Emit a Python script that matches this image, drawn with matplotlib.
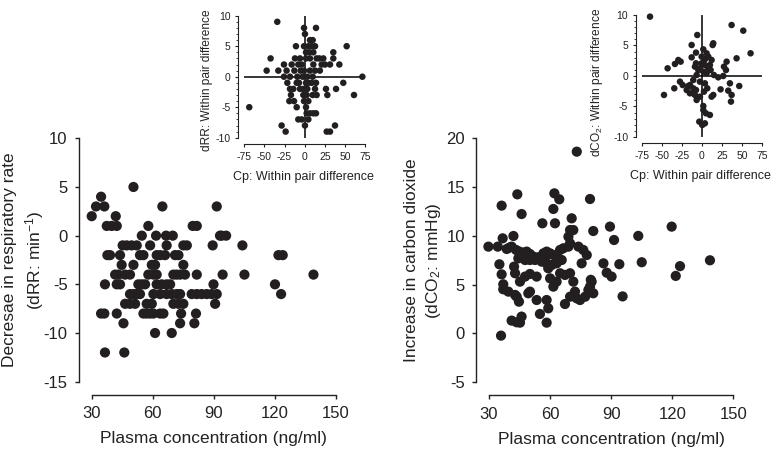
import numpy as np
import matplotlib
matplotlib.use('Agg')
import matplotlib.pyplot as plt

plt.rcParams['font.family'] = ['Liberation Sans', 'DejaVu Sans']
plt.rcParams['mathtext.fontset'] = 'custom'
plt.rcParams['mathtext.rm'] = 'Liberation Sans'
plt.rcParams['mathtext.it'] = 'Liberation Sans:italic'
plt.rcParams['axes.unicode_minus'] = False

# main left: plasma concentration vs decrease in respiratory rate
cp_rr = [34.6, 32.1, 36.2, 30.0, 41.8, 50.5, 64.7, 91.4,
         37.4, 39.8, 42.3, 57.8, 79.6, 81.6,
         54.6, 61.6, 66.5, 69.8, 93.0, 93.8, 96.0,
         45.2, 47.2, 49.6, 52.1, 58.7, 66.8, 75.0, 76.7, 89.4, 104.0,
         37.7, 39.0, 43.9, 53.7, 55.4, 61.9, 63.6, 66.0, 70.9, 72.6, 121.7, 123.8,
         44.7, 50.5, 59.5, 61.1, 75.0,
         41.5, 43.1, 46.4, 48.8, 57.8, 60.3, 61.9, 70.1, 71.7, 73.4, 75.8, 81.6, 94.3, 105.0, 138.9,
         36.5, 42.3, 43.9, 52.9, 54.6, 56.2, 61.9, 64.4, 66.8, 68.5, 89.8, 120.0,
         48.8, 50.5, 52.1, 53.7, 60.3, 63.6, 66.8, 69.3, 71.7, 73.4,
         79.1, 81.6, 84.0, 86.5, 88.9, 91.4, 123.0,
         46.4, 48.8, 51.3, 57.0, 59.5, 70.1, 72.6, 75.0, 90.6,
         34.6, 36.2, 42.3, 55.4, 57.0, 58.7, 60.3, 63.6, 65.2, 73.9, 81.2,
         45.6, 73.4, 80.4,
         61.1, 69.3,
         36.5, 46.0]
drr = [4, 3, 3, 2, 2, 5, 3, 3,
       1, 1, 1, 1, 1, 1,
       0, 0, 0, 0, 0, 0, 0,
       -1, -1, -1, -1, -1, -1, -1, -1, -1, -1,
       -2, -2, -2, -2, -2, -2, -2, -2, -2, -2, -2, -2,
       -3, -3, -3, -3, -3,
       -4, -4, -4, -4, -4, -4, -4, -4, -4, -4, -4, -4, -4, -4, -4,
       -5, -5, -5, -5, -5, -5, -5, -5, -5, -5, -5, -5,
       -6, -6, -6, -6, -6, -6, -6, -6, -6, -6,
       -6, -6, -6, -6, -6, -6, -6,
       -7, -7, -7, -7, -7, -7, -7, -7, -7,
       -8, -8, -8, -8, -8, -8, -8, -8, -8, -8, -8,
       -9, -9, -9,
       -10, -10,
       -12, -12]

# main right: plasma concentration vs increase in carbon dioxide
cp_co2 = [73.1, 36.2, 43.9, 46.0, 62.1, 64.5, 61.6, 56.2, 62.4, 70.6, 79.6, 81.2,
          69.8, 71.4, 89.4, 91.4, 69.0, 69.8, 29.7, 34.3, 36.7, 42.0, 38.7, 41.1,
          43.3, 44.9, 46.9, 48.5, 50.1, 51.8, 54.2, 44.4, 46.0, 47.7, 50.1, 52.6,
          56.7, 58.3, 60.0, 61.6, 63.2, 64.9, 65.7, 55.9, 58.3, 60.8, 63.2, 59.1,
          66.5, 69.0, 73.9, 76.3, 78.0, 75.5, 86.2, 35.1, 36.2, 42.3, 42.8, 50.1,
          53.4, 45.2, 47.7, 37.0, 37.0, 39.5, 42.8, 44.7, 43.6, 50.1, 49.3, 53.4,
          58.3, 59.1, 58.3, 55.0, 41.1, 43.6, 46.0, 45.2, 35.9, 60.0, 61.6, 63.2,
          64.9, 67.3, 69.8, 71.4, 67.3, 69.8, 72.2, 73.1, 74.7, 77.2, 79.6, 80.4,
          81.2, 78.8, 87.8, 90.2, 95.6, 94.0, 103.3, 105.0, 119.7, 121.7, 123.8,
          138.5, 80.0, 57.5, 48.0, 40.0]
dco2 = [18.63, 13.10, 14.26, 12.24, 14.36, 13.75, 12.76, 11.29, 11.29, 11.80, 13.78, 10.50,
        10.60, 10.60, 10.95, 9.58, 9.92, 9.24, 8.90, 8.90, 9.75, 9.99, 8.66, 8.90,
        8.56, 8.39, 8.29, 8.39, 8.15, 7.88, 7.81, 7.70, 7.94, 7.53, 7.53, 7.53,
        8.21, 8.39, 8.21, 8.04, 7.88, 8.56, 7.53, 7.36, 7.19, 7.02, 7.19, 6.68,
        8.73, 8.90, 8.90, 8.56, 8.04, 7.19, 7.19, 7.09, 6.06, 6.85, 6.17, 6.10,
        5.83, 5.31, 5.83, 5.04, 4.53, 4.29, 3.95, 3.26, 3.77, 4.29, 4.12, 3.43,
        3.43, 2.58, 1.11, 2.00, 1.32, 1.15, 1.73, 1.11, -0.22, 5.65, 4.80, 5.31,
        6.17, 6.00, 6.17, 5.31, 3.02, 3.77, 4.29, 3.60, 3.43, 3.77, 4.80, 5.31,
        4.12, 4.46, 6.23, 5.83, 3.80, 7.10, 10.00, 7.30, 10.95, 5.90, 6.90,
        7.50, 5.50, 7.80, 7.60, 8.80]

# inset left: within pair differences (Cp vs dRR)
dcp_rr = [-34.0, -68.8, -42.3, -47.2, -32.7, -28.6, -25.7, -25.7, -22.4, -21.5,
          -18.2, -14.1, -19.0, -17.0, -23.6, -10.8, -12.0, -5.8, -9.9, -7.9,
          -3.7, -0.8, 0.4, 0.4, 4.6, 1.7, 2.5, 6.6, 10.0, 8.7,
          12.9, 14.1, 6.6, 10.8, 14.1, 26.5, 28.2, 27.4, 31.5, 37.7,
          35.6, 35.6, 43.1, 52.2, 48.0, 39.0, 61.3, 71.7,
          -7.9, -3.7, -5.0, -9.1, -2.5, -7.0, -5.8, -1.6, 4.6, 2.5,
          3.3, 4.6, 3.3, 6.6, 10.8, 14.9, 12.9, 10.0, 14.1, 12.9,
          10.0, 14.9, 1.7, 5.8, 10.8, 1.7, 6.6, 18.2, 23.2, 25.3,
          31.5, 21.1, 18.9, -0.8, 4.6, -0.8, -1.6, -0.8, 1.7, 8.7,
          -18.2, -12.8, -16.1, -9.9, -13.2]
ddrr = [9, -5, 3, 1, 1, -8, 2, 0, 1, -1,
        -2, -2, -4, -3, -9, 5, 3, 3, -5, -7,
        -7, 8, 7, -8, -7, -5, -6, 6, 6, 5,
        5, 8, -6, -6, -6, -2, -3, -9, -9, -8,
        4, 3, 2, 5, -1, -2, -3, 0,
        2, 2, 1, 0, 0, -1, -2, -3, -4, -3,
        -2, -1, 0, 1, 2, 3, 1, 0, -1, -2,
        -3, -3, 4, 4, 4, 3, 3, 3, 3, 2,
        2, 2, 1, 5, 5, 1, -2, -4, -1, -1,
        0, 1, 2, -1, -4]

# inset right: within pair differences (Cp vs dCO2)
dcp_co2 = [-64.6, -47.2, -42.7, -33.6, -29.4, -26.5, -34.4, -27.3, -24.0, -12.8,
           -12.8, -7.4, -5.8, -14.9, -10.8, -7.4, -14.9, -6.6, 1.7, 5.8,
           7.9, 12.0, 13.3, 14.1, -2.5, -4.5, -3.3, 0.4, 3.7, 9.9,
           5.0, 1.7, 36.9, 51.4, 60.5, 43.1, 30.7, 27.4, 29.9, 26.5,
           20.3, 34.8, 32.7, 36.9, 36.1, 46.4, 23.2, 12.0, 14.1,
           -0.4, 3.7, 1.7, 5.8, 7.9, 9.9, -2.5, 3.7, 6.6, 2.5,
           -2.5, -8.7, -10.8, -6.6, -7.4, -8.7, 10.8, 14.9, -0.4, 3.7,
           1.7, -19.0, -17.0, -10.8]
ddco2 = [9.73, -3.11, 1.26, 1.97, 2.62, 2.35, -2.02, -0.93, -1.48, 5.08,
         3.06, 3.83, 6.72, -1.48, -2.02, -2.30, -2.84, -3.93, 4.37, 3.72,
         3.17, 2.62, 5.08, 5.36, 1.26, 0.98, -7.49, -8.03, -7.76, -6.39,
         -6.12, -4.92, 8.36, 7.43, 3.72, 2.90, 2.35, 1.53, 0.98, 0.00,
         -0.22, -1.20, -2.40, -3.11, -4.20, -1.64, -2.19, -3.39, -3.11,
         2.08, 1.80, 0.71, 0.44, 1.26, 1.80, -0.93, -1.20, -2.02, -2.57,
         -3.39, -3.11, -0.66, 0.16, 2.08, 1.53, 0.98, 0.16, 3.17, 2.73,
         -5.57, -2.30, -1.64, -2.84]

dot = '#231f20'
txt = '#222222'

fig = plt.figure(figsize=(7.74, 4.53), dpi=100)


def main_axes(rect, x, y, ylim, yticks):
    ax = fig.add_axes(rect)
    ax.scatter(x, y, s=54, c=dot, edgecolors='none', clip_on=False, zorder=3)
    ax.set_xlim(30, 150)
    ax.set_ylim(*ylim)
    ax.set_xticks([30, 60, 90, 120, 150])
    ax.set_yticks(yticks)
    ax.spines[['top', 'right']].set_visible(False)
    ax.spines['left'].set_position(('outward', 9.3))
    ax.spines['bottom'].set_position(('outward', 9.5))
    for s in ['left', 'bottom']:
        ax.spines[s].set_linewidth(1.0)
        ax.spines[s].set_color(txt)
    ax.tick_params(direction='out', length=3, width=1.0, labelsize=12,
                   colors=txt, pad=5)
    ax.set_xlabel('Plasma concentration (ng/ml)', fontsize=12.5, color=txt, va='center')
    ax.xaxis.set_label_coords(0.5, -0.235)
    return ax


def inset_axes(rect, x, y, ylabel):
    ax = fig.add_axes(rect)
    ax.axhline(0, color='k', lw=1.1, zorder=1)
    ax.axvline(0, color='k', lw=1.1, zorder=1)
    ax.scatter(x, y, s=22, c=dot, edgecolors='none', clip_on=False, zorder=3)
    ax.set_xlim(-75, 75)
    ax.set_ylim(-10, 10)
    ax.set_xticks([-75, -50, -25, 0, 25, 50, 75])
    ax.set_yticks([-10, -5, 0, 5, 10])
    ax.set_yticks(np.arange(-10, 11, 1), minor=True)
    ax.spines[['top', 'right']].set_visible(False)
    ax.spines['left'].set_position(('outward', 4.2))
    ax.spines['bottom'].set_position(('outward', 4.6))
    for s in ['left', 'bottom']:
        ax.spines[s].set_linewidth(0.8)
        ax.spines[s].set_color(txt)
    ax.tick_params(direction='out', length=2.5, width=0.8, labelsize=7.5,
                   colors=txt, pad=3)
    ax.tick_params(which='minor', direction='out', length=1.5, width=0.6, colors=txt)
    ax.set_xlabel('Cp: Within pair difference', fontsize=9, color=txt, va='center')
    ax.xaxis.set_label_coords(0.49, -0.32)
    ax.set_ylabel(ylabel, fontsize=8.6, color=txt, va='center')
    return ax


ax1 = main_axes([0.1185, 0.1574, 0.3157, 0.5373], cp_rr, drr, (-15, 10), [-15, -10, -5, 0, 5, 10])
ax1.set_ylabel('Decresae in respiratory rate\n(dRR: min$^{-1}$)', fontsize=12.5, color=txt,
               va='center', linespacing=1.35)
ax1.yaxis.set_label_coords(-0.279, 0.5)

ax2 = main_axes([0.6318, 0.1561, 0.3157, 0.5386], cp_co2, dco2, (-5, 20), [-5, 0, 5, 10, 15, 20])
ax2.set_ylabel('Increase in carbon dioxide\n(dCO$_2$: mmHg)', fontsize=12.5, color=txt,
               va='center', linespacing=1.35)
ax2.yaxis.set_label_coords(-0.268, 0.5)

ax3 = inset_axes([0.3156, 0.696, 0.156, 0.2693], dcp_rr, ddrr, 'dRR: Within pair difference')
ax3.yaxis.set_label_coords(-0.312, 0.47)

ax4 = inset_axes([0.829, 0.6976, 0.1558, 0.2693], dcp_co2, ddco2, 'dCO$_2$: Within pair difference')
ax4.yaxis.set_label_coords(-0.371, 0.45)

plt.savefig('out.png', dpi=100)
